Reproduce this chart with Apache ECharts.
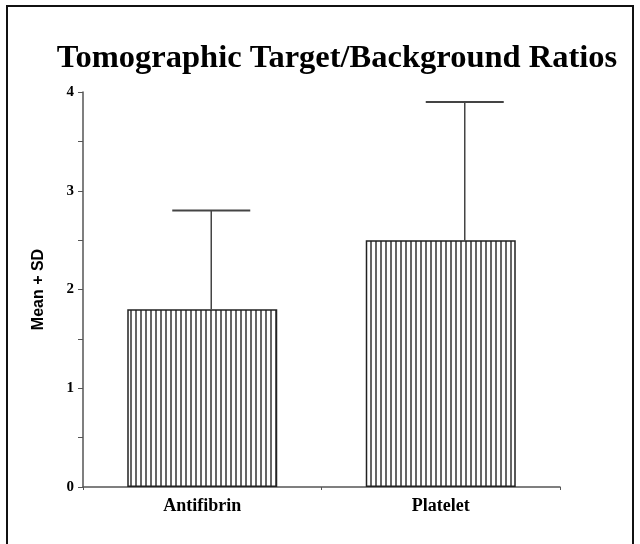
<!DOCTYPE html>
<html>
<head>
<meta charset="utf-8">
<script src="https://cdn.jsdelivr.net/npm/echarts@6/dist/echarts.min.js"></script>
<style>html,body{margin:0;padding:0;background:#fff;}#c{width:640px;height:544px;}</style>
</head>
<body>
<div id="c"></div>
<script>
var categories = ['Antifibrin', 'Platelet'];
var means = [1.8, 2.5];
var upper = [2.8, 3.9];
var yTicks = [0, 1, 2, 3, 4];

var pc = document.createElement('canvas');
pc.width = 5; pc.height = 10;
var g = pc.getContext('2d');
g.fillStyle = '#fff'; g.fillRect(0, 0, 5, 10);
g.fillStyle = '#666'; g.fillRect(0, 0, 2, 10);

var errOffset = [9, 24];

var chart = echarts.init(document.getElementById('c'));
chart.setOption({
  animation: false,
  backgroundColor: '#fff',
  title: {
    text: 'Tomographic Target/Background Ratios',
    left: 332, top: 37, textAlign: 'center',
    textStyle: {fontFamily: 'Liberation Serif', fontWeight: 'bold', fontSize: 32.5, color: '#000'}
  },
  graphic: [{
    type: 'rect', shape: {x: 7, y: 6, width: 626, height: 560},
    style: {fill: 'none', stroke: '#111', lineWidth: 2}, silent: true
  }],
  grid: {left: 83, right: 80, top: 92, bottom: 57},
  xAxis: {
    type: 'category', data: categories,
    axisLine: {lineStyle: {color: '#555', width: 1.5}},
    axisTick: {show: true, length: 3, lineStyle: {color: '#555'}},
    axisLabel: {margin: 10, color: '#000', fontFamily: 'Liberation Serif', fontWeight: 'bold', fontSize: 18}
  },
  yAxis: {
    type: 'value', min: 0, max: 4, interval: 1,
    name: 'Mean + SD', nameLocation: 'middle', nameGap: 36,
    nameTextStyle: {fontFamily: 'Liberation Sans Narrow, Liberation Sans', fontWeight: 'bold', fontSize: 16, color: '#000'},
    axisLine: {show: true, lineStyle: {color: '#555', width: 1.5}},
    axisTick: {show: true, length: 5, lineStyle: {color: '#555'}},
    minorTick: {show: true, splitNumber: 2, length: 5, lineStyle: {color: '#555'}},
    splitLine: {show: false},
    axisLabel: {margin: 9, color: '#000', fontFamily: 'Liberation Serif', fontWeight: 'bold', fontSize: 15,
      formatter: function (v) { return yTicks.indexOf(v) >= 0 ? String(v) : ''; }}
  },
  series: [{
    type: 'bar', data: means, barWidth: 150,
    itemStyle: {color: {image: pc, repeat: 'repeat'}, borderColor: '#222', borderWidth: 1.5}
  }, {
    type: 'custom',
    data: categories.map(function (c, i) { return [i, means[i], upper[i]]; }),
    renderItem: function (params, api) {
      var i = api.value(0);
      var lo = api.coord([i, api.value(1)]);
      var hi = api.coord([i, api.value(2)]);
      var x = lo[0] + errOffset[params.dataIndex];
      return {type: 'group', children: [
        {type: 'line', shape: {x1: x, y1: lo[1], x2: x, y2: hi[1]}, style: {stroke: '#444', lineWidth: 1.5}},
        {type: 'line', shape: {x1: x - 39, y1: hi[1], x2: x + 39, y2: hi[1]}, style: {stroke: '#444', lineWidth: 2}}
      ]};
    }
  }]
});
</script>
</body>
</html>
